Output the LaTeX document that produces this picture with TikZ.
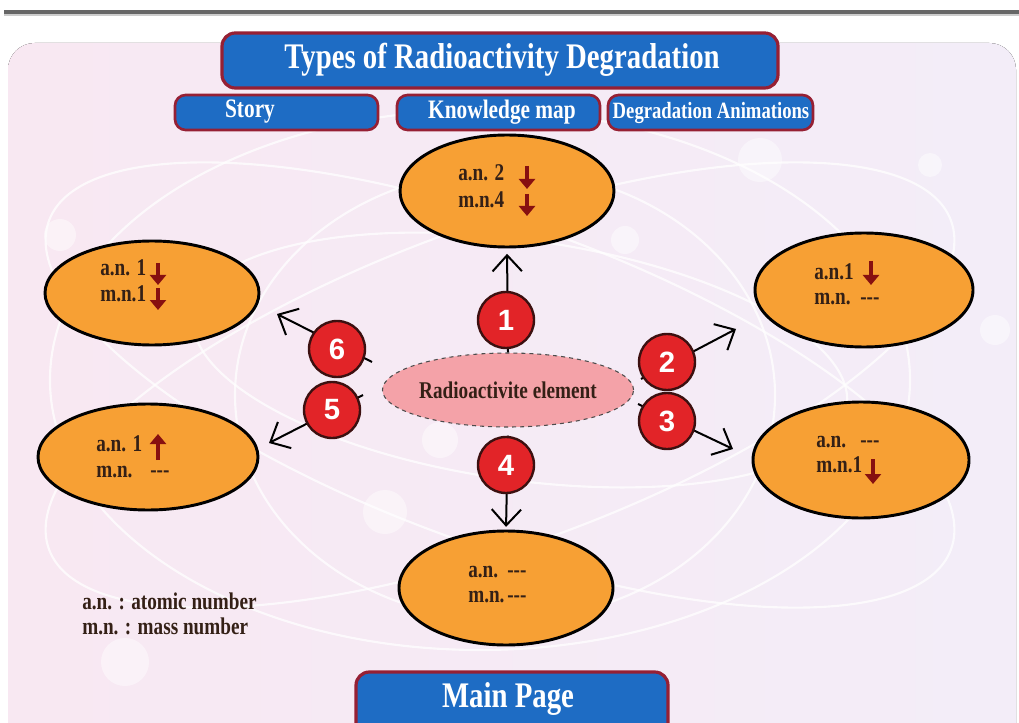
\documentclass[tikz,border=0pt]{standalone}
\usepackage{fontspec}
\setmainfont{Liberation Serif}
\newfontfamily\condfont{Liberation Serif}[FakeStretch=0.8]
\newfontfamily\numfont{Liberation Sans}
\usetikzlibrary{shapes.geometric,arrows.meta}
\definecolor{bgL}{RGB}{248,232,242}
\definecolor{bgR}{RGB}{243,237,248}
\definecolor{boxblue}{RGB}{30,108,196}
\definecolor{boxred}{RGB}{150,32,52}
\definecolor{orfill}{RGB}{247,160,52}
\definecolor{pinkfill}{RGB}{244,162,168}
\definecolor{circred}{RGB}{226,36,40}
\definecolor{circedge}{RGB}{60,16,16}
\definecolor{arrred}{RGB}{135,16,16}
\definecolor{txtdark}{RGB}{52,32,22}
\tikzset{
  orangeov/.style={ellipse, draw=black, line width=2.2pt, fill=orfill, inner sep=0pt},
  bluebox/.style={rectangle, rounded corners=8pt, draw=boxred, line width=2pt, fill=boxblue, inner sep=0pt},
  btntext/.style={text=white, inner sep=0pt, font=\condfont\bfseries\fontsize{20}{20}\selectfont},
  numc/.style={circle, draw=circedge, line width=1.8pt, fill=circred, minimum size=42pt, inner sep=0pt, text=white, font=\numfont\bfseries\fontsize{22}{22}\selectfont},
  bigarr/.style={draw=black, line width=1.5pt, -{Straight Barb[length=12pt,width=22pt]}},
  smarr/.style={draw=arrred, line width=3.2pt, -{Triangle[width=12pt,length=7.5pt]}},
  ovtext/.style={anchor=base west, inner sep=0pt, text=txtdark, font=\condfont\bfseries\fontsize{18}{18}\selectfont},
  orbit/.style={draw=white, line width=1.6pt, opacity=0.75},
  bubble/.style={fill=white, opacity=0.45},
}
\begin{document}
\begin{tikzpicture}[x=0.75pt,y=-0.75pt]
\useasboundingbox (0,0) rectangle (1019,723);
\clip (0,0) rectangle (1019,723);
\fill[white] (0,0) rectangle (1019,723);
\draw[line width=3pt, gray!80!black] (4,12) -- (1019,12);
\draw[line width=1pt, gray!40] (4,15) -- (1019,15);
\fill[left color=bgL, right color=bgR, rounded corners=20pt] (8,43) rectangle (1016,760);
% background orbits and bubbles
\draw[orbit] (500,385) ellipse [x radius=480, y radius=160, rotate=20];
\draw[orbit] (500,385) ellipse [x radius=480, y radius=160, rotate=-20];
\draw[orbit] (505,395) ellipse [x radius=270, y radius=225];
\draw[orbit] (480,380) ellipse [x radius=430, y radius=270];
\draw[orbit] (520,360) ellipse [x radius=330, y radius=120, rotate=-8];
\fill[bubble] (760,160) circle (22);
\fill[bubble] (625,240) circle (14);
\fill[bubble] (385,512) circle (22);
\fill[bubble] (930,165) circle (12);
\fill[bubble] (60,235) circle (16);
\fill[bubble] (995,330) circle (15);
\fill[bubble] (125,662) circle (24);
\fill[bubble] (440,440) circle (18);
% centre element
\node[ellipse, draw=black!70, dashed, line width=0.8pt, fill=pinkfill, minimum width=187.5pt, minimum height=55.5pt, inner sep=0pt,
      text=txtdark, font=\condfont\bfseries\fontsize{18}{18}\selectfont] (C) at (508,390) {Radioactivite element};
% outer ellipses
\node[orangeov, minimum width=160.5pt, minimum height=84pt] (T) at (507,191) {};
\node[orangeov, minimum width=160.5pt, minimum height=78pt] (TL) at (152,293) {};
\node[orangeov, minimum width=165pt, minimum height=79.5pt] (BL) at (148,457) {};
\node[orangeov, minimum width=163.5pt, minimum height=85.5pt] (TR) at (864,290) {};
\node[orangeov, minimum width=162pt, minimum height=87pt] (BR) at (861,460) {};
\node[orangeov, minimum width=160.5pt, minimum height=85.5pt] (B) at (506,588) {};
% arrow ends
\coordinate (s2) at (641,379); \coordinate (e2) at (736,329);
\coordinate (s3) at (638,404); \coordinate (e3) at (733,449);
\coordinate (s5) at (363,395); \coordinate (e5) at (269,443);
\coordinate (s6) at (372,362); \coordinate (e6) at (277,314);
\draw[bigarr, shorten >=4pt] (C.north) -- (T.south);
\draw[bigarr, shorten >=2pt, shorten <=6pt] (C.south) -- (B.north);
\draw[bigarr] (s2) -- (e2);
\draw[bigarr] (s3) -- (e3);
\draw[bigarr] (s5) -- (e5);
\draw[bigarr] (s6) -- (e6);
% numbered circles
\node[numc] (n1) at (506,320) {1};
\node[numc] (n2) at (667,362) {2};
\node[numc] (n3) at (667,421) {3};
\node[numc] (n4) at (506,465) {4};
\node[numc] (n5) at (332,410) {5};
\node[numc] (n6) at (337,349) {6};
% texts in ellipses
\node[ovtext] (tA) at (458,181) {a.n. 2};
\node[ovtext] (tM) at (458,208) {m.n.4};
\draw[smarr] (527,166) -- (527,189);
\draw[smarr] (527,194) -- (527,216);
\node[ovtext] (tlA) at (100,276) {a.n. 1};
\node[ovtext] (tlM) at (100,301) {m.n.1};
\draw[smarr] (158,263) -- (158,285);
\draw[smarr] (158,288) -- (158,310);
\node[ovtext] (blA) at (96,451) {a.n. 1};
\draw[smarr] (158,460) -- (158,434);
\node[ovtext] (blM) at (96,477) {m.n.};
\node[ovtext] (blD) at (150,477) {-{}-{}-};
\node[ovtext] (trA) at (814,279) {a.n.1};
\draw[smarr] (871,261) -- (871,285);
\node[ovtext] (trM) at (814,304) {m.n.};
\node[ovtext] (trD) at (860,304) {-{}-{}-};
\node[ovtext] (brA) at (816,447) {a.n.};
\node[ovtext] (brD) at (860,447) {-{}-{}-};
\node[ovtext] (brM) at (816,472) {m.n.1};
\draw[smarr] (873,459) -- (873,484);
\node[ovtext] (bA) at (468,577) {a.n.};
\node[ovtext] (bAD) at (507,577) {-{}-{}-};
\node[ovtext] (bM) at (468,602) {m.n.};
\node[ovtext] (bMD) at (507,602) {-{}-{}-};
% legend
\node[ovtext] (lg1) at (82,609) {a.n. : atomic number};
\node[ovtext] (lg2) at (82,634) {m.n. : mass number};
% header boxes
\node[bluebox, rounded corners=10pt, line width=2.4pt, minimum width=417pt, minimum height=41.25pt] (title) at (500,60.5) {};
\node[btntext, font=\condfont\bfseries\fontsize{27}{27}\selectfont] (titleT) at (502,60) {Types of Radioactivity Degradation};
\node[bluebox, minimum width=152.25pt, minimum height=26.25pt] (story) at (276.5,112.5) {};
\node[btntext] (storyT) at (250,112) {Story};
\node[bluebox, minimum width=152.25pt, minimum height=26.25pt] (kmap) at (498.5,112.5) {};
\node[btntext] (kmapT) at (502,112) {Knowledge map};
\node[bluebox, minimum width=153.75pt, minimum height=26.25pt] (anim) at (710.5,112.5) {};
\node[btntext, font=\condfont\bfseries\fontsize{17.5}{17.5}\selectfont] (animT) at (711,113) {Degradation Animations};
% main page
\node[bluebox, rounded corners=10pt, line width=2.4pt, minimum width=234pt, minimum height=54.75pt] (mainb) at (512,708.5) {};
\node[btntext, font=\condfont\bfseries\fontsize{27}{27}\selectfont] (mainT) at (508,699) {Main Page};
\end{tikzpicture}
\end{document}
